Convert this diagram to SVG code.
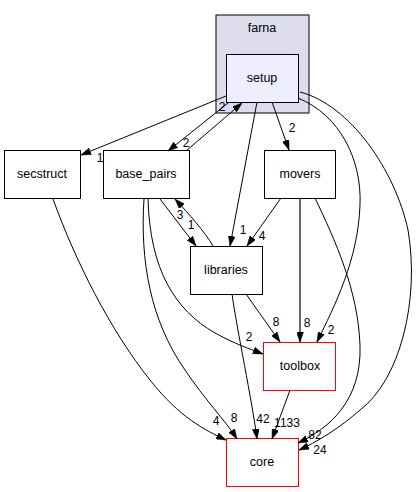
<svg xmlns="http://www.w3.org/2000/svg" width="417" height="492" viewBox="0 0 417 492">
<style>
text{font-family:"Liberation Sans",Arial,sans-serif;fill:#000;text-anchor:middle}
.n{font-size:12.5px}
.l{font-size:12px}
.box{fill:#fff;stroke:#000;stroke-width:1}
.red{fill:#fff;stroke:#f00;stroke-width:1}
.e{fill:none;stroke:#000;stroke-width:1;marker-end:url(#ah)}
.eb{fill:none;stroke:#404040;stroke-width:1.6;marker-end:url(#ah)}
</style>
<defs>
<marker id="ah" viewBox="0 0 10 7" refX="10" refY="3.5" markerWidth="10" markerHeight="7" markerUnits="userSpaceOnUse" orient="auto">
<path d="M0,0 L10,3.5 L0,7 z" fill="#000" stroke="#000" stroke-width="0.5"/>
</marker>
</defs>
<rect width="417" height="492" fill="#fff"/>
<g id="cluster_farna">
<rect x="216" y="15" width="93" height="98" fill="#ddddee" stroke="#000"/>
<text class="n" x="262" y="32">farna</text>
</g>
<g id="node_setup">
<rect x="226.5" y="54.5" width="72" height="48" fill="#eeeeff" stroke="#000"/>
<text class="n" x="262" y="82">setup</text>
</g>
<g id="node_secstruct">
<rect class="box" x="4.5" y="150.5" width="76" height="48"/>
<text class="n" x="42" y="178">secstruct</text>
</g>
<g id="node_base_pairs">
<rect class="box" x="103.5" y="150.5" width="86" height="48"/>
<text class="n" x="146" y="178">base_pairs</text>
</g>
<g id="node_movers">
<rect class="box" x="264.5" y="150.5" width="71" height="48"/>
<text class="n" x="300" y="178">movers</text>
</g>
<g id="node_libraries">
<rect class="box" x="190.5" y="246.5" width="72" height="48"/>
<text class="n" x="226" y="274">libraries</text>
</g>
<g id="node_toolbox">
<rect class="red" x="263.5" y="342.5" width="72" height="48"/>
<text class="n" x="300" y="370">toolbox</text>
</g>
<g id="node_core">
<rect class="red" x="226.5" y="438.5" width="72" height="48"/>
<text class="n" x="262" y="466">core</text>
</g>
<g id="connectors">
<path class="e" d="M226,96 L81,155"/>
<path class="e" d="M228,103 L168,151"/>
<path class="e" d="M186,151 L242,103"/>
<path class="e" d="M257,102 L230,246"/>
<path class="e" d="M272,102 L289,150"/>
<path class="e" d="M298,98 C340,115 362,160 360,205 C358,260 335,305 317,342"/>
<path class="e" d="M300,92 C350,105 395,170 408,230 C420,300 400,380 360,410 C340,428 315,443 299,450"/>
<path class="e" d="M315,198 C335,240 358,290 360,345 C362,400 330,428 298,443"/>
<path class="e" d="M53,199 C75,260 110,330 150,380 C180,418 205,430 226,440"/>
<path class="e" d="M144,199 C140,260 150,320 185,370 C205,400 225,420 237,439"/>
<path class="e" d="M148,199 C150,270 175,310 215,333 C235,344 250,349 263,354"/>
<path class="e" d="M160,199 L196,246"/>
<path class="e" d="M213,246 C205,232 188,213 175,199"/>
<path class="e" d="M281,198 L247,246"/>
<path class="eb" d="M300,198 L300,342"/>
<path class="e" d="M246,294 L280,342"/>
<path class="e" d="M232,294 C237,330 252,400 257,439"/>
<path class="e" d="M290,390 L272,439"/>
<text class="l" x="100" y="162">1</text>
<text class="l" x="186" y="147">2</text>
<text class="l" x="222" y="111">2</text>
<text class="l" x="243" y="234">1</text>
<text class="l" x="292" y="132">2</text>
<text class="l" x="331" y="334">2</text>
<text class="l" x="320" y="454">24</text>
<text class="l" x="315" y="439">82</text>
<text class="l" x="216" y="425">4</text>
<text class="l" x="234" y="422">8</text>
<text class="l" x="249" y="341">2</text>
<text class="l" x="191" y="229">1</text>
<text class="l" x="180" y="219">3</text>
<text class="l" x="262" y="240">4</text>
<text class="l" x="307" y="327">8</text>
<text class="l" x="276" y="326">8</text>
<text class="l" x="263" y="423">42</text>
<text class="l" x="287" y="427">1133</text>
</g>
</svg>
